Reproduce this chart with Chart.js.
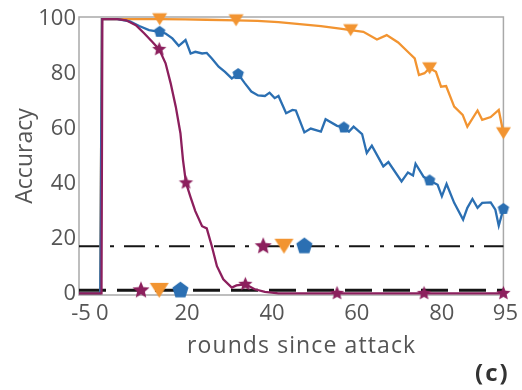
<!DOCTYPE html>
<html>
<head>
<meta charset="utf-8">
<script src="https://cdn.jsdelivr.net/npm/chart.js@4.4.1/dist/chart.umd.min.js"></script>
<style>
  html, body { margin: 0; padding: 0; background: #fff; }
  #wrap { position: relative; width: 522px; height: 390px; }
  .lbl { position: absolute; font-family: "Open Sans"; line-height: 1; white-space: nowrap; }
  #xTitle { left: 187px; top: 333px; font-size: 23px; letter-spacing: 1.1px; color: #555; }
  #tag { left: 475px; top: 360px; font-size: 24px; font-weight: bold; letter-spacing: 2px; color: #333; }
</style>
</head>
<body>
<div id="wrap">
  <canvas id="myChart" width="522" height="390"></canvas>
  <div class="lbl" id="xTitle">rounds since attack</div>
  <div class="lbl" id="tag">(c)</div>
</div>
<script>
const xTicks = [-5, 0, 20, 40, 60, 80, 95];
const yTicks = [0, 20, 40, 60, 80, 100];

// orange (triangles)
const orangeRounds = [-5, 0, 0.4, 5, 10, 14, 20, 25, 32, 37, 42, 47, 52, 56.5, 59, 62, 65.2, 67.5, 70.2, 72.9, 74.1, 75.1, 76.4, 77.6, 79.1, 80.3, 81.5, 83.4, 85.4, 86.5, 88.9, 90, 92, 93.9, 95];
const orangeAcc = [0, 0, 100, 100, 100, 100, 99.9, 99.8, 99.6, 99.4, 98.9, 98.2, 97.5, 96.6, 96, 95.4, 92.6, 94.2, 91.5, 87.5, 85.7, 79.6, 80.3, 82.1, 80.8, 75.4, 75.6, 68.1, 65.1, 60.8, 66.7, 63.3, 64.3, 66.9, 58.4];
const orangeMarks = [14, 32, 59, 77.6, 95];

// blue (pentagons)
const blueRounds = [-5, 0, 0.4, 4, 7, 9.2, 11.5, 14, 15.4, 17, 18.5, 20.1, 21.3, 22.4, 24, 25.1, 26.3, 27.9, 29.4, 31, 32.5, 34.1, 35.6, 37.2, 38.8, 39.9, 41.1, 42, 43.8, 45.3, 46.1, 48.1, 49.6, 52, 53.1, 55.8, 57.4, 58.6, 59.7, 61.7, 62.8, 64, 66.7, 67.9, 71, 72.5, 73.7, 74.3, 76.2, 77.6, 79.5, 80.5, 81.6, 83.4, 85.5, 86.5, 87.7, 88.9, 90, 92, 93.1, 93.9, 95];
const blueAcc = [0, 0, 100, 100, 99.2, 97.5, 96, 95.4, 94.8, 93, 90.3, 92.4, 87.5, 88.1, 87.5, 87.7, 85.7, 82.7, 80.8, 78.4, 80, 76.6, 73.6, 72.2, 72, 73.2, 71.2, 72, 65.7, 66.9, 66.7, 58.7, 60.1, 59, 63.5, 61.1, 60.5, 59, 60.8, 58.1, 51.2, 53.9, 46.3, 47.9, 40.8, 44.1, 43, 47.3, 42.5, 41.2, 39.6, 35.4, 39.9, 33, 26.9, 31.2, 34.4, 31.2, 33, 33.2, 30.5, 24.7, 30.8];
const blueMarks = [14, 32.5, 57.4, 77.6, 95];

// purple (stars)
const purpleRounds = [-5, 0.3, 0.5, 4, 6.1, 8.4, 10.4, 12.3, 13.9, 15.4, 16.6, 17.8, 18.9, 19.5, 20.2, 21.3, 22.4, 24, 25.1, 26.3, 27.5, 29, 31, 32.1, 34.2, 36.4, 38.8, 42, 55.8, 76.3, 95];
const purpleAcc = [0, 0, 100, 100, 99.6, 97.8, 94.8, 91.7, 89, 83.9, 76.6, 68.1, 58.4, 48.7, 40.3, 35, 30, 24.5, 23.7, 17.2, 9.9, 5.1, 2.1, 2.9, 3.3, 1.5, 0.5, 0, 0, 0, 0];
const purpleMarks = [13.9, 20.2, 34.2, 55.8, 76.3, 95];

// reference levels
const dashDotLevel = 17.2;
const dashedLevel = 1.1;
const dashDotMarks = [38.4, 43.3, 48.1];
const dashedMarks = [9.6, 13.9, 18.9];

const ORANGE = '#f29431';
const BLUE = '#2b6fb2';
const PURPLE = '#8c1f5d';

function makeMarker(kind, size, color) {
    const c = document.createElement('canvas');
    c.width = size + 2;
    c.height = size + 2;
    const g = c.getContext('2d');
    const cx = c.width / 2, cy = c.height / 2, r = size / 2;
    g.fillStyle = color;
    g.beginPath();
    if (kind === 'star') {
        for (let i = 0; i < 10; i++) {
            const rr = i % 2 === 0 ? r : r * 0.45;
            const a = -Math.PI / 2 + i * Math.PI / 5;
            g.lineTo(cx + rr * Math.cos(a), cy + rr * Math.sin(a));
        }
    } else if (kind === 'pent') {
        for (let i = 0; i < 5; i++) {
            const a = -Math.PI / 2 + i * 2 * Math.PI / 5;
            g.lineTo(cx + r * Math.cos(a), cy + r * 1.02 * Math.sin(a));
        }
    } else {
        const h = size * 0.8;
        g.moveTo(cx - r, cy - h / 2);
        g.lineTo(cx + r, cy - h / 2);
        g.lineTo(cx, cy + h / 2);
    }
    g.closePath();
    g.fill();
    return c;
}

const starSmall = makeMarker('star', 15, PURPLE);
const triSmall = makeMarker('tri', 15, ORANGE);
const pentSmall = makeMarker('pent', 12, BLUE);
const starBig = makeMarker('star', 18, PURPLE);
const triBig = makeMarker('tri', 19, ORANGE);
const pentBig = makeMarker('pent', 17, BLUE);

function pts(xs, ys) {
    return xs.map((x, i) => ({x: x, y: ys[i]}));
}

function seriesSet(xs, ys, marks, color, marker, order) {
    return {
        data: pts(xs, ys),
        borderColor: color,
        backgroundColor: color,
        borderWidth: 2.3,
        pointStyle: marker,
        pointRadius: ctx => marks.includes(ctx.raw.x) ? 6 : 0,
        tension: 0,
        clip: false,
        order: order
    };
}

function levelSet(level, dash, width, order) {
    return {
        data: [{x: -5, y: level}, {x: 95, y: level}],
        borderColor: '#151515',
        borderWidth: width,
        borderDash: dash,
        pointRadius: 0,
        clip: false,
        order: order
    };
}

function markSet(level, xs, order) {
    const styles = [starBig, triBig, pentBig];
    return {
        data: xs.map(x => ({x: x, y: level})),
        showLine: false,
        pointStyle: ctx => styles[ctx.dataIndex],
        pointRadius: 6,
        clip: false,
        order: order
    };
}

const framePlugin = {
    id: 'frame',
    beforeDatasetsDraw(chart) {
        const a = chart.chartArea;
        const g = chart.ctx;
        g.save();
        g.strokeStyle = '#a9a9a9';
        g.lineWidth = 1.5;
        g.strokeRect(a.left, a.top, a.right - a.left, a.bottom - a.top);
        g.restore();
    }
};

const tickFont = {family: 'Open Sans', size: 22};

new Chart(document.getElementById('myChart'), {
    type: 'line',
    data: {
        datasets: [
            markSet(dashDotLevel, dashDotMarks, 0),
            markSet(dashedLevel, dashedMarks, 0),
            seriesSet(purpleRounds, purpleAcc, purpleMarks, PURPLE, starSmall, 1),
            seriesSet(blueRounds, blueAcc, blueMarks, BLUE, pentSmall, 2),
            seriesSet(orangeRounds, orangeAcc, orangeMarks, ORANGE, triSmall, 3),
            levelSet(dashDotLevel, [21, 10, 4, 10], 2, 4),
            levelSet(dashedLevel, [27, 11], 3, 4)
        ]
    },
    options: {
        responsive: false,
        animation: false,
        layout: {padding: {top: 17, right: 14, left: 0, bottom: 0}},
        plugins: {legend: {display: false}, tooltip: {enabled: false}},
        scales: {
            x: {
                type: 'linear',
                min: -5,
                max: 95,
                afterBuildTicks: s => { s.ticks = xTicks.map(v => ({value: v})); },
                afterFit: s => { s.height = 95; },
                grid: {display: false, drawTicks: false},
                border: {display: false},
                ticks: {font: tickFont, color: '#555', padding: 6, labelOffset: 2, maxRotation: 0, autoSkip: false}
            },
            y: {
                min: -0.6,
                max: 100.8,
                afterBuildTicks: s => { s.ticks = yTicks.map(v => ({value: v})); },
                afterFit: s => { s.width = 79; },
                grid: {display: false, drawTicks: false},
                border: {display: false},
                ticks: {font: tickFont, color: '#555', padding: 3},
                title: {display: true, text: 'Accuracy', font: {family: 'Open Sans', size: 23}, color: '#555', padding: {top: 12, bottom: 0}}
            }
        }
    },
    plugins: [framePlugin]
});
</script>
</body>
</html>
